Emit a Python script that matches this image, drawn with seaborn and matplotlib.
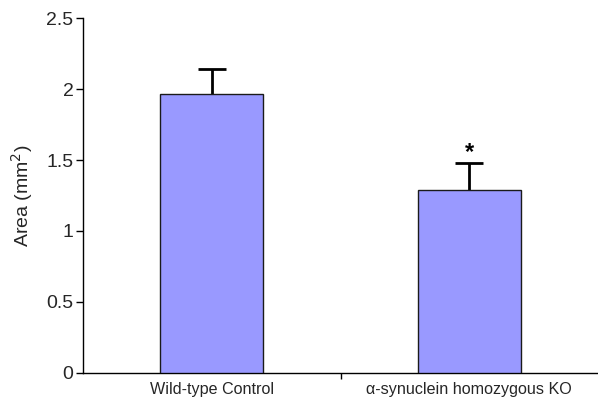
import matplotlib
matplotlib.use('Agg')
import matplotlib.pyplot as plt
import seaborn as sns
import pandas as pd

# Values
groups = ['Wild-type Control', 'α-synuclein homozygous KO']
area = [1.97, 1.29]
sem = [0.17, 0.187]
y_ticks = [0, 0.5, 1, 1.5, 2, 2.5]
y_tick_labels = ['0', '0.5', '1', '1.5', '2', '2.5']

df = pd.DataFrame({'group': groups, 'area': area, 'sem': sem})
df['top'] = df['area'] + df['sem']

sns.set_theme(style='white')
plt.rcParams['font.family'] = ['Liberation Sans', 'DejaVu Sans']

fig = plt.figure(figsize=(5.98, 4.01), dpi=100)
ax = fig.add_axes([0.139, 0.071, 0.861, 0.883])

sns.barplot(data=df, x='group', y='area', color='#9999FF', saturation=1,
            width=0.4, edgecolor='#1a1a1a', linewidth=1, ax=ax, zorder=3)

# upper-only error bars: stem + single cap on top
ax.vlines(range(len(df)), df['area'], df['top'], color='black',
          linewidth=2, zorder=2)
ax.plot(range(len(df)), df['top'], linestyle='none', marker='_',
        markersize=19.5, markeredgewidth=2, color='black', zorder=2)

# significance marker
ax.text(1, df['top'][1] - 0.005, '*', ha='center', va='bottom',
        fontsize=17, fontweight='bold', color='black')

ax.set_xlim(-0.5, 1.5)
ax.set_ylim(0, 2.5)
ax.set_yticks(y_ticks)
ax.set_yticklabels(y_tick_labels, fontsize=14)
ax.set_xticks([0, 1])
ax.set_xticklabels(groups, fontsize=11.6)
ax.set_xticks([0.5], minor=True)
ax.tick_params(axis='x', which='major', length=0, pad=7)
ax.tick_params(axis='x', which='minor', length=4, width=1, color='black',
               direction='out', bottom=True)
ax.tick_params(axis='y', length=5, width=1, color='black', direction='out',
               left=True, pad=2)
ax.set_xlabel('')
ax.set_ylabel('Area (mm$^2$)', fontsize=14, labelpad=8)

for s in ['top', 'right']:
    ax.spines[s].set_visible(False)
for s in ['left', 'bottom']:
    ax.spines[s].set_color('black')
    ax.spines[s].set_linewidth(1)

plt.savefig('out.png', dpi=100)
plt.close()
